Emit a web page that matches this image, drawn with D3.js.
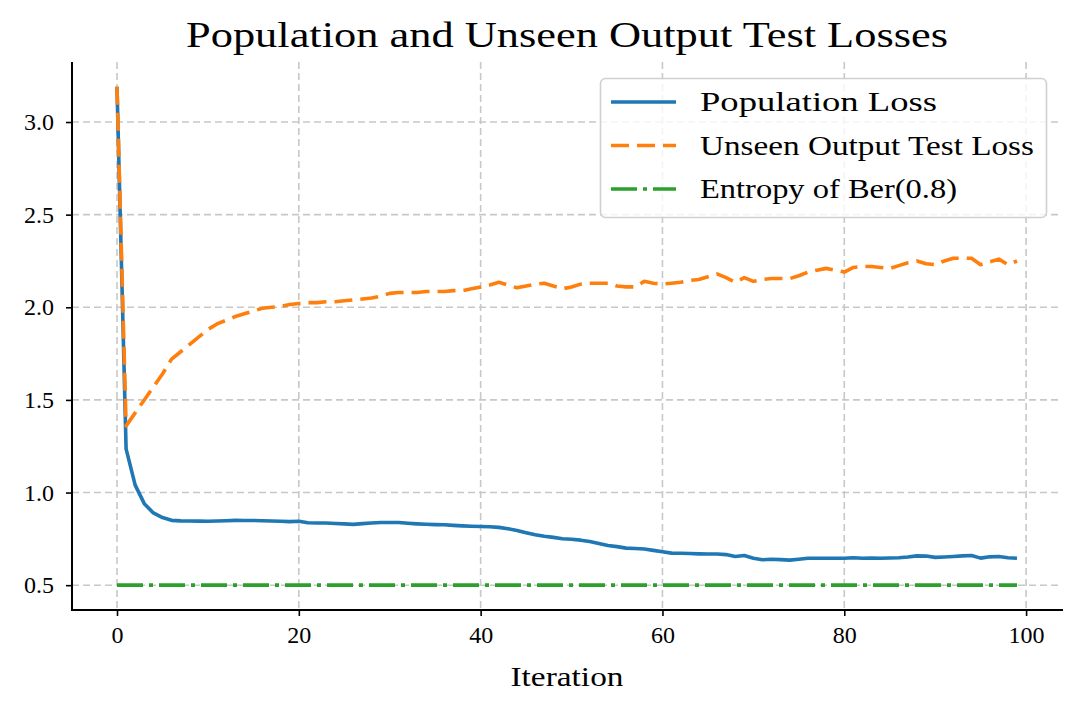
<!DOCTYPE html>
<html>
<head>
<meta charset="utf-8">
<script src="https://cdn.jsdelivr.net/npm/d3@7"></script>
<style>
  html, body { margin: 0; padding: 0; background: #fff; }
  svg { display: block; }
  text { font-family: "Liberation Serif", "DejaVu Serif", serif; fill: #000; }
</style>
</head>
<body>
<svg id="chart" width="1081" height="711"></svg>
<script>
// ---- data ----
const iterations = d3.range(0, 100);
const populationLoss = [
  3.19, 1.236, 1.04, 0.94, 0.89, 0.865, 0.85, 0.847, 0.846, 0.846,
  0.845, 0.846, 0.848, 0.85, 0.849, 0.849, 0.848, 0.846, 0.845, 0.843,
  0.845, 0.837, 0.836, 0.836, 0.833, 0.831, 0.828, 0.832, 0.836, 0.838,
  0.838, 0.838, 0.834, 0.831, 0.829, 0.827, 0.826, 0.823, 0.82, 0.818,
  0.817, 0.815, 0.812, 0.805, 0.795, 0.783, 0.772, 0.764, 0.758, 0.751,
  0.748, 0.743, 0.736, 0.725, 0.714, 0.708, 0.70, 0.698, 0.695, 0.688,
  0.68, 0.673, 0.672, 0.671, 0.669, 0.668, 0.668, 0.665, 0.655, 0.66,
  0.645, 0.637, 0.64, 0.638, 0.635, 0.64, 0.645, 0.645, 0.645, 0.645,
  0.645, 0.648, 0.645, 0.647, 0.645, 0.647, 0.648, 0.652, 0.658, 0.657,
  0.65, 0.652, 0.655, 0.658, 0.66, 0.646, 0.653, 0.655, 0.648, 0.645
];
const unseenLoss = [
  3.19, 1.36, 1.43, 1.50, 1.57, 1.64, 1.72, 1.76, 1.80, 1.84,
  1.88, 1.91, 1.93, 1.95, 1.965, 1.98, 1.995, 2.00, 2.005, 2.015,
  2.02, 2.025, 2.025, 2.03, 2.03, 2.035, 2.04, 2.045, 2.05, 2.06,
  2.075, 2.08, 2.08, 2.08, 2.085, 2.085, 2.085, 2.09, 2.09, 2.10,
  2.11, 2.12, 2.135, 2.12, 2.105, 2.115, 2.125, 2.13, 2.115, 2.10,
  2.11, 2.125, 2.13, 2.13, 2.13, 2.115, 2.11, 2.11, 2.14, 2.13,
  2.125, 2.13, 2.135, 2.145, 2.15, 2.165, 2.18, 2.16, 2.135, 2.16,
  2.14, 2.15, 2.155, 2.155, 2.155, 2.17, 2.19, 2.20, 2.21, 2.20,
  2.19, 2.215, 2.22, 2.22, 2.215, 2.21, 2.225, 2.24, 2.25, 2.235,
  2.23, 2.25, 2.265, 2.265, 2.265, 2.23, 2.245, 2.26, 2.23, 2.25
];
const entropyValue = 0.5004;
const entropyLine = iterations.map(() => entropyValue);
const xTicks = [0, 20, 40, 60, 80, 100];
const yTicks = [0.5, 1.0, 1.5, 2.0, 2.5, 3.0];
const seriesNames = ["Population Loss", "Unseen Output Test Loss", "Entropy of Ber(0.8)"];
const titleText = "Population and Unseen Output Test Losses";
const xLabelText = "Iteration";

// ---- layout ----
const svg = d3.select("#chart");
const L = 72, R = 1062, T = 62, B = 610;
const x = d3.scaleLinear().domain([-4.95, 103.95]).range([L, R]);
const y = d3.scaleLinear().domain([0.366, 3.324]).range([B, T]);

const colors = ["#1f77b4", "#ff7f0e", "#2ca02c"];
const dashes = [null, "18,8", "26,6,4,6"];

// grid
const grid = svg.append("g");
grid.selectAll(".vg").data(xTicks).join("line")
  .attr("x1", d => x(d)).attr("x2", d => x(d))
  .attr("y1", T).attr("y2", B)
  .attr("stroke", "#c8c8c8").attr("stroke-width", 1.6)
  .attr("stroke-dasharray", "7,4");
grid.selectAll(".hg").data(yTicks).join("line")
  .attr("x1", L).attr("x2", R)
  .attr("y1", d => y(d)).attr("y2", d => y(d))
  .attr("stroke", "#c8c8c8").attr("stroke-width", 1.6)
  .attr("stroke-dasharray", "7,4");

// lines
const line = d3.line().x((d, i) => x(iterations[i])).y(d => y(d));
const seriesData = [populationLoss, unseenLoss, entropyLine];
[0, 1, 2].forEach(k => {
  svg.append("path")
    .datum(seriesData[k])
    .attr("d", line)
    .attr("fill", "none")
    .attr("stroke", colors[k])
    .attr("stroke-width", 3.6)
    .attr("stroke-linejoin", "round")
    .attr("stroke-dasharray", dashes[k]);
});

// axes
const xAxis = d3.axisBottom(x).tickValues(xTicks).tickFormat(d3.format("d")).tickSize(6).tickPadding(10);
const yAxis = d3.axisLeft(y).tickValues(yTicks).tickFormat(d3.format(".1f")).tickSize(6).tickPadding(12);
const gx = svg.append("g").attr("transform", `translate(0,${B})`).call(xAxis);
const gy = svg.append("g").attr("transform", `translate(${L},0)`).call(yAxis);
[gx, gy].forEach(g => {
  g.attr("font-size", null).attr("font-family", null);
  g.select(".domain").remove();
  g.selectAll(".tick line").attr("stroke", "#000").attr("stroke-width", 1.6);
  g.selectAll(".tick text")
    .style("font-family", "'Liberation Serif', 'DejaVu Serif', serif")
    .style("font-size", "24px").attr("fill", "#000");
});
svg.append("line").attr("x1", L).attr("x2", L).attr("y1", T).attr("y2", B + 0.8)
  .attr("stroke", "#000").attr("stroke-width", 2);
svg.append("line").attr("x1", L - 1).attr("x2", R + 1).attr("y1", B).attr("y2", B)
  .attr("stroke", "#000").attr("stroke-width", 2);

// title & axis label
svg.append("text").attr("x", 567).attr("y", 47).attr("text-anchor", "middle")
  .attr("font-size", 35).attr("textLength", 762).attr("lengthAdjust", "spacingAndGlyphs")
  .text(titleText);
svg.append("text").attr("x", 567).attr("y", 686).attr("text-anchor", "middle")
  .attr("font-size", 27).attr("textLength", 113).attr("lengthAdjust", "spacingAndGlyphs")
  .text(xLabelText);

// legend
const lg = svg.append("g");
lg.append("rect").attr("x", 600.5).attr("y", 78.5).attr("width", 446).attr("height", 139)
  .attr("rx", 5).attr("fill", "rgba(255,255,255,0.8)").attr("stroke", "#d0d0d0").attr("stroke-width", 1.6);
const legendWidths = [237, 334, 257];
seriesNames.forEach((name, i) => {
  const cy = 102 + i * 43.5;
  lg.append("line").attr("x1", 611).attr("x2", 676).attr("y1", cy).attr("y2", cy)
    .attr("stroke", colors[i]).attr("stroke-width", 3.6)
    .attr("stroke-dasharray", dashes[i]);
  lg.append("text").attr("x", 700).attr("y", cy + 9).attr("font-size", 27)
    .attr("textLength", legendWidths[i]).attr("lengthAdjust", "spacingAndGlyphs")
    .text(name);
});
</script>
</body>
</html>
